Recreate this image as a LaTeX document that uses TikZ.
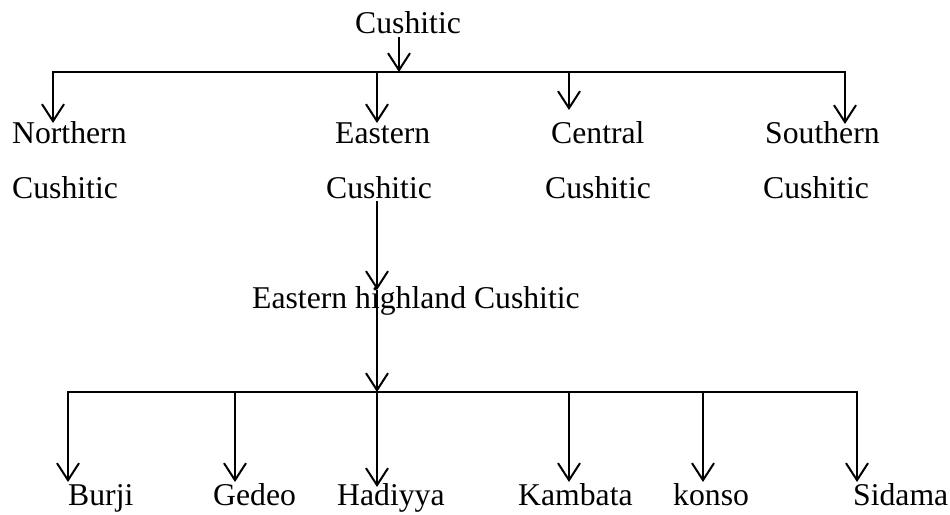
\documentclass[tikz,border=0pt]{standalone}
\usepackage{fontspec}
\setmainfont{Liberation Serif}
\usetikzlibrary{arrows.meta}
\begin{document}
\begin{tikzpicture}[x=1pt,y=-1pt,
  lbl/.style={anchor=base west,inner sep=0pt,font=\fontsize{31.7}{38}\selectfont},
  link/.style={line width=2pt,line cap=rect},
  arr/.style={line width=2pt,-{Straight Barb[length=17pt,width=22pt]}}]
\useasboundingbox[fill=white] (0,0) rectangle (950,514);

% texts
\node[lbl] (root) at (355,33) {Cushitic};
\node[lbl] (north1) at (12,143) {Northern};
\node[lbl] (north2) at (12,198) {Cushitic};
\node[lbl] (east1) at (335,143) {Eastern};
\node[lbl] (east2) at (326,198) {Cushitic};
\node[lbl] (cent1) at (551,143) {Central};
\node[lbl] (cent2) at (545,198) {Cushitic};
\node[lbl] (south1) at (765,143) {Southern};
\node[lbl] (south2) at (763,198) {Cushitic};
\node[lbl] (ehc) at (252,308) {Eastern highland Cushitic};
\node[lbl] (burji) at (68,505) {Burji};
\node[lbl] (gedeo) at (213,505) {Gedeo};
\node[lbl] (hadiyya) at (337,505) {Hadiyya};
\node[lbl] (kambata) at (518,505) {Kambata};
\node[lbl] (konso) at (673,505) {konso};
\node[lbl] (sidama) at (853,505) {Sidama};

% coordinates
\coordinate (rootS) at (399,37);
\coordinate (rootJ) at (399,72);
\coordinate (jN) at (53,72);
\coordinate (jE) at (377,72);
\coordinate (jC) at (569,72);
\coordinate (jS) at (845,72);
\coordinate (tN) at (53,123);
\coordinate (tE) at (377,123);
\coordinate (tC) at (569,110);
\coordinate (tS) at (845,124);
\coordinate (eastS) at (377,201);
\coordinate (tEHC) at (377,290);
\coordinate (bJ) at (377,392);
\coordinate (bJL) at (68,392);
\coordinate (bJR) at (857,392);
\coordinate (jBu) at (68,392);
\coordinate (jGe) at (235,392);
\coordinate (jKa) at (569,392);
\coordinate (jKo) at (703,392);
\coordinate (jSi) at (857,392);
\coordinate (tBu) at (68,482);
\coordinate (tGe) at (235,482);
\coordinate (tHa) at (377,487);
\coordinate (tKa) at (569,482);
\coordinate (tKo) at (703,482);
\coordinate (tSi) at (857,482);

% top level
\draw[arr] (rootS) -- (rootJ);
\draw[link] (jN) -- (jS);
\draw[arr] (jN) -- (tN);
\draw[arr] (jE) -- (tE);
\draw[arr] (jC) -- (tC);
\draw[arr] (jS) -- (tS);

% eastern branch
\draw[arr] (eastS) -- (tEHC);
\draw[arr] (tEHC) -- (bJ);
\draw[link] (bJL) -- (bJR);
\draw[arr] (jBu) -- (tBu);
\draw[arr] (jGe) -- (tGe);
\draw[arr] (bJ) -- (tHa);
\draw[arr] (jKa) -- (tKa);
\draw[arr] (jKo) -- (tKo);
\draw[arr] (jSi) -- (tSi);
\end{tikzpicture}
\end{document}
